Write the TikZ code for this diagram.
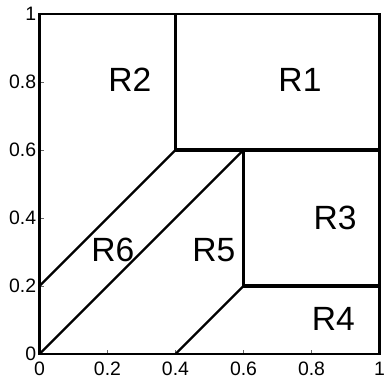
\documentclass[tikz,border=0pt]{standalone}
\usepackage{fontspec}
\setmainfont{Liberation Sans}
\usetikzlibrary{positioning,calc}
\tikzset{
  region/.style={font=\fontsize{22.5}{22.5}\selectfont, inner sep=0pt},
  ticklbl/.style={font=\fontsize{13}{13}\selectfont, inner sep=2pt},
  frame/.style={line width=1.5pt},
  bound/.style={line width=2.4pt},
  diag/.style={line width=1.5pt},
  tickmark/.style={line width=0.4pt, black!60},
}

\begin{document}
\begin{tikzpicture}[x=8cm,y=8cm]
\useasboundingbox (-0.116,-0.088) rectangle (1.016,1.041);
% corner points of the regions
\coordinate (o) at (0,0);
\coordinate (a) at (0.4,1);
\coordinate (b) at (0.4,0.6);
\coordinate (c) at (1,0.6);
\coordinate (d) at (0.6,0.6);
\coordinate (e) at (0.6,0.2);
\coordinate (f) at (1,0.2);
\coordinate (g) at (0,0.2);
\coordinate (h) at (0.4,0);
% ticks and labels
\foreach \v in {0.2,0.4,0.6,0.8} {
  \draw[tickmark] (0,\v) -- ++(0.012,0);
  \draw[tickmark] (\v,0) -- ++(0,0.012);
}
\foreach \v/\t in {0/0,0.2/0.2,0.4/0.4,0.6/0.6,0.8/0.8,1/1} {
  \node[ticklbl, left] (yl\t) at (0,\v) {\t};
  \node[ticklbl, below=3pt] (xl\t) at (\v,0) {\t};
}
\draw[frame] (o) rectangle (1,1);
% region boundaries
\draw[bound] (a) -- (b) -- (c);
\draw[bound] (d) -- (e) -- (f);
\draw[diag] (g) -- (b);
\draw[diag] (o) -- (d);
\draw[diag] (h) -- (e);
% region names
\node[region] (R1) at (0.766,0.806) {R1};
\node[region] (R2) at (0.266,0.806) {R2};
\node[region] (R3) at (0.869,0.399) {R3};
\node[region] (R4) at (0.864,0.103) {R4};
\node[region] (R5) at (0.513,0.306) {R5};
\node[region] (R6) at (0.216,0.305) {R6};
\end{tikzpicture}
\end{document}
